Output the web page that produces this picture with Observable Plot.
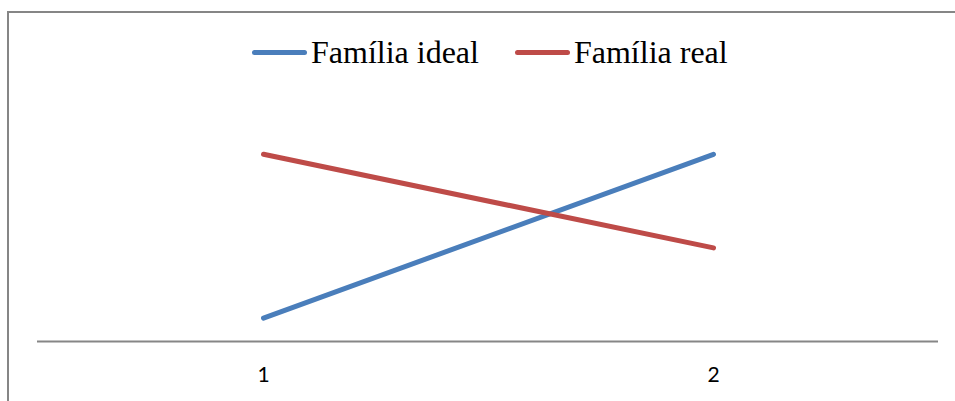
<!DOCTYPE html>
<html>
<head>
<meta charset="utf-8">
<script src="https://cdn.jsdelivr.net/npm/d3@7"></script>
<script src="https://cdn.jsdelivr.net/npm/@observablehq/plot@0.6"></script>
<style>
  html, body { margin: 0; padding: 0; background: #fff; overflow: hidden; }
  #wrap { position: relative; width: 955px; height: 401px; overflow: hidden; }
  #chart { position: absolute; left: 0; top: 0; }
  #legend { position: absolute; left: 252px; top: 34px; display: flex; align-items: center;
            font-family: "Liberation Serif", "Times New Roman", serif; font-size: 32px; color: #000; white-space: nowrap; }
  .item { display: flex; align-items: center; margin-right: 36px; }
  .sw { width: 55px; height: 5px; border-radius: 3px; margin-right: 4px; }
</style>
</head>
<body>
<div id="wrap">
  <div id="chart"></div>
  <div id="legend"></div>
</div>
<script>
const categories = [1, 2];
const seriesNames = ["Família ideal", "Família real"];
const idealValues = [1, 8];
const realValues = [8, 4];
const colors = ["#4A7EBB", "#BE4B48"];

const data = [];
categories.forEach((c, i) => {
  data.push({cat: c, value: idealValues[i], series: seriesNames[0]});
  data.push({cat: c, value: realValues[i], series: seriesNames[1]});
});

const plot = Plot.plot({
  width: 955,
  height: 401,
  marginLeft: 37,
  marginRight: 17,
  marginTop: 107,
  marginBottom: 60,
  style: {background: "transparent"},
  x: {type: "point", domain: categories, padding: 0.5},
  y: {domain: [0, 10], axis: null},
  color: {domain: seriesNames, range: colors},
  marks: [
    Plot.ruleY([0], {stroke: "#868686", strokeWidth: 2}),
    Plot.line(data, {x: "cat", y: "value", z: "series", stroke: "series", strokeWidth: 5, strokeLinecap: "round"}),
    Plot.axisX({tickSize: 0, tickPadding: 26, fontSize: 21, fill: "#000", label: null})
  ]
});
// decorative chart-area border (top and left edges only visible)
d3.select(plot).insert("path", ":first-child")
  .attr("d", "M8,401V12H960")
  .attr("fill", "none")
  .attr("stroke", "#868686")
  .attr("stroke-width", 2);
d3.select(plot).selectAll('g[aria-label="x-axis tick label"] text')
  .style("font-size", "21px")
  .style("font-family", "Lato, 'Open Sans', sans-serif");
document.getElementById("chart").appendChild(plot);

const legend = document.getElementById("legend");
seriesNames.forEach((name, i) => {
  const item = document.createElement("div");
  item.className = "item";
  const sw = document.createElement("span");
  sw.className = "sw";
  sw.style.background = colors[i];
  const t = document.createElement("span");
  t.textContent = name;
  item.appendChild(sw);
  item.appendChild(t);
  legend.appendChild(item);
});
</script>
</body>
</html>
